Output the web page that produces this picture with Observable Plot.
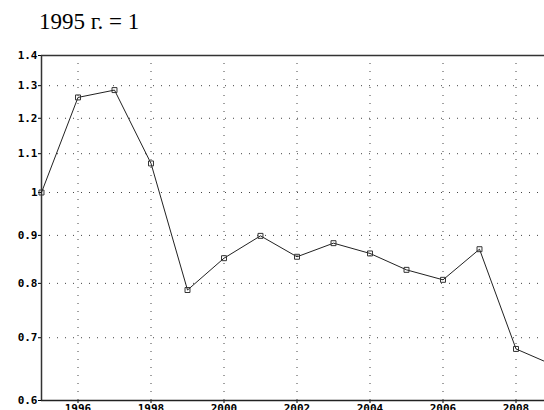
<!DOCTYPE html>
<html>
<head>
<meta charset="utf-8">
<script src="https://cdn.jsdelivr.net/npm/d3@7"></script>
<script src="https://cdn.jsdelivr.net/npm/@observablehq/plot@0.6"></script>
<style>
  html, body { margin: 0; padding: 0; background: #fff; overflow: hidden; }
  #title { height: 42px; box-sizing: border-box; padding: 9px 0 0 39px; font-family: "Liberation Serif", "Tinos", "Times New Roman", "DejaVu Serif", serif; font-size: 23px; color: #000; line-height: normal; white-space: nowrap; }
  #chart svg { display: block; }
</style>
</head>
<body>
<div id="title">1995 г. = 1</div>
<div id="chart"></div>
<script>
const years = [1995, 1996, 1997, 1998, 1999, 2000, 2001, 2002, 2003, 2004, 2005, 2006, 2007, 2008, 2009];
const values = [1, 1.263, 1.286, 1.074, 0.787, 0.851, 0.899, 0.854, 0.883, 0.861, 0.827, 0.807, 0.870, 0.681, 0.655];
const yTicks = [0.6, 0.7, 0.8, 0.9, 1, 1.1, 1.2, 1.3, 1.4];
const yTickLabels = ["0.6", "0.7", "0.8", "0.9", "1", "1.1", "1.2", "1.3", "1.4"];
const xTicks = [1996, 1998, 2000, 2002, 2004, 2006, 2008];

const data = years.map((year, i) => ({year, value: values[i]}));
const grid = {stroke: "#444", strokeWidth: 1, strokeDasharray: "1,7", strokeOpacity: 1};

const plot = Plot.plot({
  width: 544,
  height: 368,
  marginTop: 13,
  marginBottom: 10,
  marginLeft: 41,
  marginRight: 0,
  style: {fontFamily: "'DejaVu Sans Mono', monospace", fontSize: "11px", fontWeight: "bold", color: "#000", overflow: "hidden"},
  x: {domain: [1995, 2009], range: [41, 552], ticks: xTicks, tickFormat: d => String(d), tickSize: 3, tickPadding: 1, label: null},
  y: {type: "log", domain: [0.6, 1.4], ticks: yTicks, tickFormat: d => yTickLabels[yTicks.indexOf(d)], tickSize: 3, tickPadding: 1, label: null},
  marks: [
    Plot.ruleY(yTicks.slice(1, -1), grid),
    Plot.ruleX(xTicks, {...grid, y1: 0.6, y2: 1.4}),
    Plot.ruleY([1.4], {stroke: "#333", strokeWidth: 1.5}),
    Plot.ruleX([1995], {stroke: "#333", strokeWidth: 1.5}),
    Plot.ruleY([0.6], {stroke: "#222", strokeWidth: 1.5}),
    Plot.line(data, {x: "year", y: "value", stroke: "#222", strokeWidth: 1}),
    Plot.dot(data, {x: "year", y: "value", symbol: "square", r: 2.8, stroke: "#333", strokeWidth: 1, fill: "none"})
  ]
});
document.getElementById("chart").appendChild(plot);
</script>
</body>
</html>
